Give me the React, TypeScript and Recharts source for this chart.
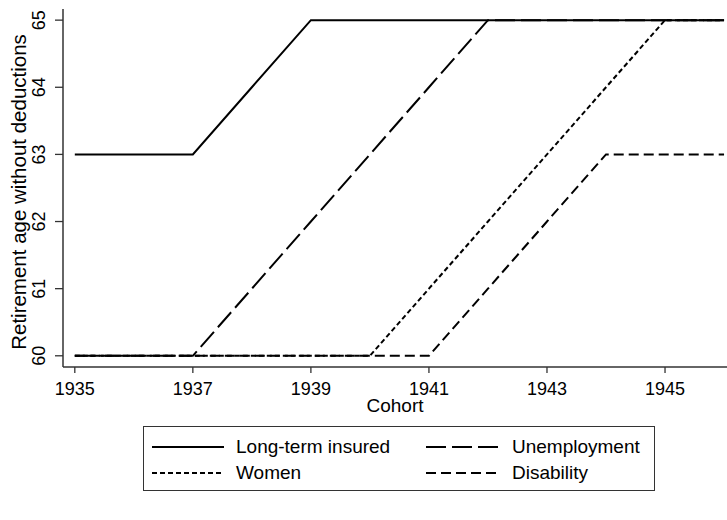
import React from "react";
import { LineChart, Line, XAxis, YAxis } from "recharts";

const cohorts = [1935, 1936, 1937, 1938, 1939, 1940, 1941, 1942, 1943, 1944, 1945, 1946];
const longTermInsured = [63, 63, 63, 64, 65, 65, 65, 65, 65, 65, 65, 65];
const unemployment = [60, 60, 60, 61, 62, 63, 64, 65, 65, 65, 65, 65];
const women = [60, 60, 60, 60, 60, 60, 61, 62, 63, 64, 65, 65];
const disability = [60, 60, 60, 60, 60, 60, 60, 61, 62, 63, 63, 63];

const xTicks = [1935, 1937, 1939, 1941, 1943, 1945];
const yTicks = [60, 61, 62, 63, 64, 65];

const data = cohorts.map((year, i) => ({
  year,
  longTerm: longTermInsured[i],
  unemployment: unemployment[i],
  women: women[i],
  disability: disability[i],
}));

const FONT = "'Liberation Sans', Arial, Helvetica, sans-serif";
const AXIS = "#333";

const SERIES = [
  { key: "longTerm", name: "Long-term insured", dash: undefined },
  { key: "unemployment", name: "Unemployment", dash: "20 6" },
  { key: "women", name: "Women", dash: "5 3" },
  { key: "disability", name: "Disability", dash: "10 5" },
];

// y tick labels are turned on their side, like Stata does
const YTick = (props: any) => {
  const { x, y, payload } = props;
  const cx = x - 14;
  return (
    <text
      x={cx}
      y={y}
      textAnchor="middle"
      dominantBaseline="central"
      transform={`rotate(-90 ${cx} ${y})`}
      fill="#000"
      fontSize={18}
      fontFamily={FONT}
    >
      {payload.value}
    </text>
  );
};

const LegendSample = ({ dash }: { dash?: string }) => (
  <svg width={72} height={6} style={{ display: "block" }}>
    <line x1={0} y1={3} x2={72} y2={3} stroke="#000" strokeWidth={2} strokeDasharray={dash} />
  </svg>
);

const LegendBox = () => {
  const cols = [
    { sample: 9, text: 93 },
    { sample: 283, text: 369 },
  ];
  const rows = [21, 47];
  return (
    <div
      style={{
        position: "absolute",
        left: 143,
        top: 426,
        width: 512,
        height: 65,
        boxSizing: "border-box",
        border: `1px solid ${AXIS}`,
        fontFamily: FONT,
        fontSize: 19,
        color: "#000",
      }}
    >
      {SERIES.map((s, i) => {
        const col = cols[i % 2];
        const row = rows[Math.floor(i / 2)];
        return (
          <React.Fragment key={s.key}>
            <div style={{ position: "absolute", left: col.sample - 1, top: row - 4 }}>
              <LegendSample dash={s.dash} />
            </div>
            <div
              style={{
                position: "absolute",
                left: col.text - 1,
                top: row - 12,
                lineHeight: "22px",
                height: 22,
                whiteSpace: "nowrap",
              }}
            >
              {s.name}
            </div>
          </React.Fragment>
        );
      })}
    </div>
  );
};

export default function App() {
  return (
    <div style={{ position: "absolute", left: 0, top: 0, width: 727, height: 520, background: "#fff" }}>
      <LineChart
        width={727}
        height={520}
        data={data}
        margin={{ top: 9, right: 0, bottom: 113, left: 0 }}
      >
        <XAxis
          xAxisId="top"
          orientation="top"
          dataKey="year"
          type="number"
          domain={[1934.8, 1946.05]}
          allowDataOverflow
          height={0}
          tick={false}
          tickLine={false}
          axisLine={{ stroke: AXIS, strokeWidth: 1.5 }}
        />
        <XAxis
          dataKey="year"
          type="number"
          domain={[1934.8, 1946.05]}
          allowDataOverflow
          ticks={xTicks}
          height={40}
          tickSize={6}
          tickMargin={9}
          tick={{ fill: "#000", fontSize: 18, fontFamily: FONT }}
          tickLine={{ stroke: AXIS, strokeWidth: 1.3 }}
          axisLine={{ stroke: AXIS, strokeWidth: 1.5 }}
          label={{
            content: (p: any) => {
              const vb = p.viewBox;
              return (
                <text
                  x={vb.x + vb.width / 2}
                  y={405}
                  textAnchor="middle"
                  dominantBaseline="central"
                  fill="#000"
                  fontSize={19}
                  fontFamily={FONT}
                >
                  Cohort
                </text>
              );
            },
          }}
        />
        <YAxis
          type="number"
          domain={[59.833, 65.166]}
          allowDataOverflow
          ticks={yTicks}
          width={63}
          tickSize={8}
          tickMargin={2}
          tick={<YTick />}
          tickLine={{ stroke: AXIS, strokeWidth: 1.3 }}
          axisLine={{ stroke: AXIS, strokeWidth: 1.5 }}
          label={{
            content: (p: any) => {
              const vb = p.viewBox;
              const cy = vb.y + vb.height / 2 + 4;
              return (
                <text
                  x={18}
                  y={cy}
                  textAnchor="middle"
                  dominantBaseline="central"
                  transform={`rotate(-90 18 ${cy})`}
                  fill="#000"
                  fontSize={20.5}
                  fontFamily={FONT}
                >
                  Retirement age without deductions
                </text>
              );
            },
          }}
        />
        {SERIES.map((s) => (
          <Line
            key={s.key}
            dataKey={s.key}
            name={s.name}
            type="linear"
            stroke="#000"
            strokeWidth={2}
            strokeDasharray={s.dash}
            dot={false}
            activeDot={false}
            isAnimationActive={false}
          />
        ))}
      </LineChart>
      <LegendBox />
    </div>
  );
}
